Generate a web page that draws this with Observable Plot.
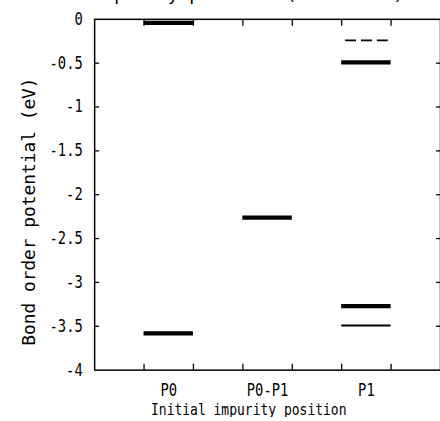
<!DOCTYPE html>
<html><head><meta charset="utf-8">
<script src="https://cdn.jsdelivr.net/npm/d3@7"></script>
<script src="https://cdn.jsdelivr.net/npm/@observablehq/plot@0.6"></script>
<style>html,body{margin:0;padding:0;overflow:hidden;background:#fff}</style>
</head><body><div id="chart"></div>
<script>
const title = "Impurity position (all sites)";
const xLabel = "Initial impurity position";
const yLabel = "Bond order potential (eV)";
const categories = ["P0", "P0-P1", "P1"];
const levelCategory = ["P0", "P0", "P0-P1", "P1", "P1", "P1", "P1"];
const levelValue = [-0.04, -3.58, -2.26, -0.24, -0.49, -3.27, -3.49];
const levelKind = ["main", "main", "main", "dashed", "main", "main", "minor"];
const yTicks = [0, -0.5, -1, -1.5, -2, -2.5, -3, -3.5, -4];
const yTickLabels = ["0", "-0.5", "-1", "-1.5", "-2", "-2.5", "-3", "-3.5", "-4"];

const HALF = 0.25;
const levels = levelValue.map((v, i) => ({
  category: levelCategory[i],
  pos: categories.indexOf(levelCategory[i]) + 1,
  value: v,
  kind: levelKind[i]
}));
const edgeTicks = categories.flatMap((c, i) => [i + 1 - HALF, i + 1 + HALF]);
const font = "'DejaVu Sans Mono', monospace";

const plot = Plot.plot({
  width: 444, height: 421,
  marginLeft: 95, marginRight: 0, marginTop: 19, marginBottom: 48,
  style: {fontFamily: font, background: "#fff", color: "#000", overflow: "visible"},
  x: {domain: [0.25, 3.75]},
  y: {domain: [-4, 0]},
  marks: [
    Plot.frame({stroke: "#000", strokeWidth: 1.5}),
    Plot.axisY({ticks: yTicks, tickSize: 0, tickPadding: 12, tickFormat: d => yTickLabels[yTicks.indexOf(d)], fontSize: 17, label: null}),
    Plot.axisY({ticks: yTicks.slice(1, -1), tickSize: -5, tickFormat: () => "", label: null, strokeWidth: 1.3}),
    Plot.axisY({anchor: "right", ticks: yTicks.slice(1, -1), tickSize: -5, tickFormat: () => "", label: null, strokeWidth: 1.3}),
    Plot.axisX({ticks: [1, 2, 3], tickSize: 0, tickPadding: 14, tickFormat: d => categories[d - 1], fontSize: 17, label: null}),
    Plot.axisX({ticks: edgeTicks, tickSize: -6, tickFormat: () => "", label: null, strokeWidth: 1.3}),
    Plot.axisX({anchor: "top", ticks: edgeTicks, tickSize: -6, tickFormat: () => "", label: null, strokeWidth: 1.3}),
    Plot.ruleY(levels.filter(d => d.kind === "main"), {y: "value", x1: d => d.pos - HALF, x2: d => d.pos + HALF, stroke: "#000", strokeWidth: 4.3}),
    Plot.ruleY(levels.filter(d => d.kind === "minor"), {y: "value", x1: d => d.pos - HALF, x2: d => d.pos + HALF, stroke: "#000", strokeWidth: 2}),
    Plot.ruleY(levels.filter(d => d.kind === "dashed"), {y: "value", x1: d => d.pos - HALF, x2: d => d.pos + HALF, stroke: "#000", strokeWidth: 2, strokeDasharray: "11,5", strokeDashoffset: 12}),
    Plot.text([xLabel], {text: d => d, frameAnchor: "bottom", dy: 34, dx: -19, lineAnchor: "top", fontSize: 16}),
    Plot.text([yLabel], {text: d => d, frameAnchor: "left", textAnchor: "middle", rotate: -90, dx: -66, dy: 17, fontSize: 18}),
    Plot.text([title], {text: d => d, frameAnchor: "top-left", textAnchor: "start", lineAnchor: "middle", dx: -2, dy: -25, fontSize: 18})
  ]
});
document.getElementById("chart").append(plot);

// condense the glyphs horizontally like the original scanned typeface
plot.querySelectorAll("text").forEach(t => {
  const s = t.textContent;
  if (!s || s === yLabel || s === title) return;
  const len = t.getComputedTextLength();
  if (len > 0) {
    t.setAttribute("textLength", (len * 0.82).toFixed(1));
    t.setAttribute("lengthAdjust", "spacingAndGlyphs");
  }
});
</script>
</body></html>
